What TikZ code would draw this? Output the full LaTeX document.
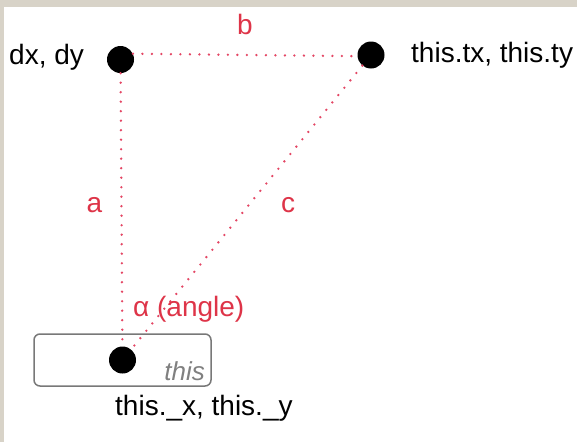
\documentclass[tikz,border=0pt]{standalone}
\usepackage{fontspec}
\setmainfont{Liberation Sans}
\definecolor{lbl}{RGB}{222,52,72}
\definecolor{dotc}{RGB}{228,70,100}
\definecolor{beige}{RGB}{216,211,200}
\definecolor{boxgray}{RGB}{120,120,120}
\definecolor{thisgray}{RGB}{128,128,128}
\begin{document}
\begin{tikzpicture}[x=1pt,y=-1pt,
  pt/.style={circle,fill=black,minimum size=27pt,inner sep=0pt},
  lab/.style={inner sep=0pt,font=\fontsize{28}{32}\selectfont},
  redlab/.style={lab,text=lbl},
  dotline/.style={draw=dotc,line width=2.6pt,line cap=round,dash pattern=on 0pt off 9.5pt}]
\fill[beige] (0,0) rectangle (577,442);
\fill[white] (3.5,7) rectangle (577,442);
\useasboundingbox (0,0) rectangle (577,442);
% box
\node[draw=boxgray,line width=1.5pt,rounded corners=6pt,minimum width=177pt,minimum height=52pt,inner sep=0pt] (box) at (122.5,360) {};
% dots
\node[pt] (d1) at (120.5,59.5) {};
\node[pt] (d2) at (371,55) {};
\node[pt] (d3) at (122.5,360) {};
% connectors
\draw[dotline] (d1.25) -- (d2.185);
\draw[dotline] (d1) -- (d3);
\draw[dotline] (d2) -- (d3);
% labels
\node[lab,anchor=base west] (ldx) at (9,64) {dx, dy};
\node[lab,anchor=base west] (ltx) at (411,62) {this.tx, this.ty};
\node[lab,anchor=base west] (lxy) at (115,415) {this.\_x, this.\_y};
\node[redlab,anchor=base] (lb) at (245,34) {b};
\node[redlab,anchor=base] (la) at (94.5,212) {a};
\node[redlab,anchor=base] (lc) at (288,212) {c};
\node[redlab,anchor=base west] (lang) at (133,316) {α (angle)};
\node[inner sep=0pt,anchor=base east,text=thisgray,font=\fontsize{26}{30}\selectfont\itshape] (lthis) at (205,380) {this};
\end{tikzpicture}
\end{document}
